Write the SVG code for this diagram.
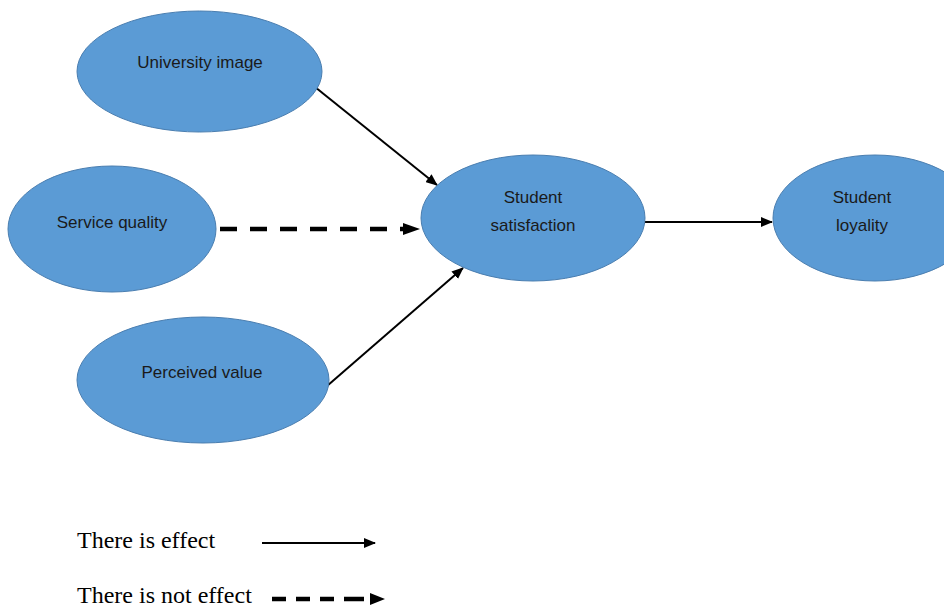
<svg xmlns="http://www.w3.org/2000/svg" width="944" height="608" viewBox="0 0 944 608">
<style>
.node ellipse{fill:#5B9BD5;stroke:#4A7EB0;stroke-width:1}
.node text{font-family:"Liberation Sans",Arial,sans-serif;font-size:17px;fill:#1a1a1a;text-anchor:middle}
.solid{stroke:#000;stroke-width:2;fill:none}
.dash{stroke:#000;stroke-width:4.5;fill:none;stroke-dasharray:17 13}
.dash2{stroke:#000;stroke-width:4.5;fill:none;stroke-dasharray:14 10 14 10 14 10 20}
.legend{font-family:"Liberation Serif","Times New Roman",serif;font-size:24px;fill:#000}
</style>
<defs>
<marker id="ah" markerUnits="userSpaceOnUse" markerWidth="12" markerHeight="10" refX="11" refY="5" orient="auto">
<path d="M0,0 L12,5 L0,10 Z" fill="#000"/>
</marker>
</defs>
<rect width="944" height="608" fill="#fff"/>
<g id="connectors">
<line class="solid" x1="315" y1="87" x2="437" y2="185" marker-end="url(#ah)"/>
<line class="dash" x1="220" y1="229" x2="408" y2="229"/>
<path d="M403,223 L420,229 L403,235 Z" fill="#000"/>
<line class="solid" x1="327" y1="386" x2="463" y2="268" marker-end="url(#ah)"/>
<line class="solid" x1="645" y1="222" x2="772" y2="222" marker-end="url(#ah)"/>
</g>
<g id="university-image" class="node">
<ellipse cx="199.5" cy="71.5" rx="122.5" ry="60.5"/>
<text x="200" y="68">University image</text>
</g>
<g id="service-quality" class="node">
<ellipse cx="112" cy="229" rx="104" ry="63"/>
<text x="112" y="228">Service quality</text>
</g>
<g id="perceived-value" class="node">
<ellipse cx="203" cy="380" rx="126" ry="63"/>
<text x="202" y="378">Perceived value</text>
</g>
<g id="student-satisfaction" class="node">
<ellipse cx="533" cy="218" rx="112" ry="63"/>
<text x="533" y="203">Student</text>
<text x="533" y="231">satisfaction</text>
</g>
<g id="student-loyality" class="node">
<ellipse cx="875" cy="218" rx="102" ry="63"/>
<text x="862" y="203">Student</text>
<text x="862" y="231">loyality</text>
</g>
<g id="legend">
<text class="legend" x="77" y="548">There is effect</text>
<line class="solid" x1="262" y1="543" x2="375" y2="543" marker-end="url(#ah)"/>
<text class="legend" x="77" y="603">There is not effect</text>
<line class="dash2" x1="272" y1="599" x2="372" y2="599"/>
<path d="M370,593 L385,599 L370,605 Z" fill="#000"/>
</g>
</svg>
